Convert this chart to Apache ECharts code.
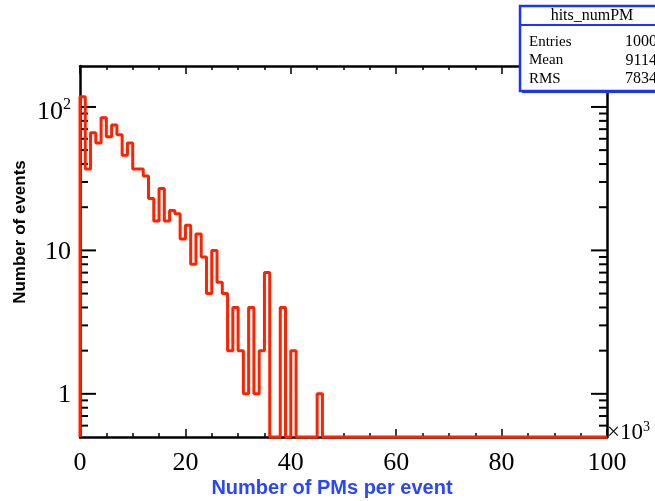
<!DOCTYPE html>
<html>
<head>
<meta charset="utf-8">
<script src="https://cdn.jsdelivr.net/npm/echarts@6/dist/echarts.min.js"></script>
<style>
html,body{margin:0;padding:0;background:#fff;}
#c{width:655px;height:501px;}
</style>
</head>
<body>
<div id="c"></div>
<script>
// ---- data ----
const binEdgesStart = 0;      // x10^3
const binWidth = 1;           // x10^3
const binValues = [
  118, 37, 66, 56, 84, 62, 75, 64, 46, 56,
   37, 37, 33, 23, 16, 27, 16, 19, 18, 12,
   15,  8, 13,  9,  5, 10,  6,  5,  2,  4,
    2,  1,  4,  1,  2,  7,  0,  0,  4,  0,
    2,  0,  0,  0,  0,  1,  0,  0,  0,  0,
    0,  0,  0,  0,  0,  0,  0,  0,  0,  0,
    0,  0,  0,  0,  0,  0,  0,  0,  0,  0,
    0,  0,  0,  0,  0,  0,  0,  0,  0,  0,
    0,  0,  0,  0,  0,  0,  0,  0,  0,  0,
    0,  0,  0,  0,  0,  0,  0,  0,  0,  0
];
const xTickLabels = [0, 20, 40, 60, 80, 100];
const yTickValues = [0.6, 0.7, 0.8, 0.9, 1, 2, 3, 4, 5, 6, 7, 8, 9, 10, 20, 30, 40, 50, 60, 70, 80, 90, 100];
const yMajorLabels = {1: '1', 10: '10', 100: '10²'};
const statsTitle = 'hits_numPM';
const statsNames = ['Entries', 'Mean', 'RMS'];
const statsValues = ['1000', '9114', '7834'];
const xTitle = 'Number of PMs per event';
const yTitle = 'Number of events';

const Y_MIN = 0.5, Y_MAX = 193;

// build step data (left edge of each bin), empty bins drawn at the axis minimum
const stepData = [[binEdgesStart, Y_MIN]];
binValues.forEach((v, i) => stepData.push([binEdgesStart + i * binWidth, v > 0 ? v : Y_MIN]));
stepData.push([binEdgesStart + binValues.length * binWidth, binValues[binValues.length - 1] > 0 ? binValues[binValues.length - 1] : Y_MIN]);

const serif = 'Liberation Serif';
const chart = echarts.init(document.getElementById('c'), null, {renderer: 'canvas'});

const axisLineStyle = {color: '#000', width: 2.5};

chart.setOption({
  animation: false,
  grid: {left: 80, right: 48, top: 66, bottom: 64, containLabel: false},
  xAxis: [{
    type: 'value', min: 0, max: 100, interval: 20, position: 'bottom',
    axisLine: {show: true, onZero: false, lineStyle: axisLineStyle},
    axisTick: {show: true, inside: true, length: 8, lineStyle: {color: '#000', width: 1.5}},
    minorTick: {show: true, splitNumber: 4, length: 4, lineStyle: {color: '#000', width: 1.5}},
    axisLabel: {show: true, fontFamily: serif, fontSize: 26, color: '#000', margin: 13,
      formatter: v => xTickLabels.indexOf(v) >= 0 ? String(v) : ''},
    splitLine: {show: false}
  }, {
    type: 'value', min: 0, max: 100, interval: 20, position: 'top',
    axisLine: {show: true, onZero: false, lineStyle: axisLineStyle},
    axisTick: {show: true, inside: true, length: 8, lineStyle: {color: '#000', width: 1.5}},
    minorTick: {show: true, splitNumber: 4, length: 4, lineStyle: {color: '#000', width: 1.5}},
    axisLabel: {show: false},
    splitLine: {show: false}
  }],
  yAxis: [{
    type: 'log', logBase: 10, min: Y_MIN, max: Y_MAX, position: 'left',
    axisLine: {show: true, onZero: false, lineStyle: axisLineStyle},
    axisTick: {show: false},
    axisLabel: {show: true, margin: 9, color: '#000',
      formatter: v => {
        const r = Math.round(v);
        if (r === 100) return '{b|10}{s|2}';
        if (yMajorLabels[r] !== undefined && Math.abs(v - r) < 1e-6) return '{c|' + yMajorLabels[r] + '}';
        return '';
      },
      rich: {
        b: {fontFamily: serif, fontSize: 26, color: '#000', padding: [10, 0, 0, 0]},
        c: {fontFamily: serif, fontSize: 26, color: '#000', padding: [3, 0, 0, 0]},
        s: {fontFamily: serif, fontSize: 16, color: '#000', verticalAlign: 'top', padding: [8, 0, 0, 0]}
      }
    },
    splitLine: {show: false},
    minorTick: {show: false}
  }, {
    type: 'log', logBase: 10, min: Y_MIN, max: Y_MAX, position: 'right',
    axisLine: {show: true, onZero: false, lineStyle: axisLineStyle},
    axisTick: {show: false}, axisLabel: {show: false}, splitLine: {show: false}
  }],
  series: [{
    type: 'line',
    xAxisIndex: 0, yAxisIndex: 0,
    step: 'end',
    data: stepData,
    showSymbol: false, symbol: 'none',
    lineStyle: {color: '#ff2200', width: 3},
    clip: false,
    z: 5
  }, {
    type: 'custom',
    xAxisIndex: 0, yAxisIndex: 0,
    data: yTickValues.map(v => [0, v]),
    renderItem: (params, api) => {
      const v = api.value(1);
      const lg = Math.log10(v);
      const major = Math.abs(lg - Math.round(lg)) < 1e-9;
      const len = major ? 16 : 8;
      const pL = api.coord([0, v]);
      const pR = api.coord([100, v]);
      return {
        type: 'group',
        children: [
          {type: 'line', shape: {x1: pL[0], y1: pL[1], x2: pL[0] + len, y2: pL[1]}, style: {stroke: '#000', lineWidth: 2}},
          {type: 'line', shape: {x1: pR[0], y1: pR[1], x2: pR[0] - len, y2: pR[1]}, style: {stroke: '#000', lineWidth: 2}}
        ]
      };
    },
    z: 3
  }],
  graphic: [
    {type: 'text', left: 607, top: 420, z: 10,
      style: {text: '{a|×10}{s|3}', rich: {
        a: {fontFamily: serif, fontSize: 23, fill: '#000'},
        s: {fontFamily: serif, fontSize: 14, fill: '#000', verticalAlign: 'top', padding: [0, 0, 11, 0]}
      }}},
    {type: 'text', x: 20, y: 232, rotation: Math.PI / 2, z: 10,
      style: {text: yTitle, fontFamily: 'Liberation Sans', fontWeight: 'bold', fontSize: 17, fill: '#000', align: 'center', verticalAlign: 'middle'}},
    {type: 'text', x: 332, y: 488, z: 10,
      style: {text: xTitle, fontFamily: 'Liberation Sans', fontWeight: 'bold', fontSize: 20, fill: '#2a45ff', align: 'center', verticalAlign: 'middle'}},
    {type: 'group', z: 20, children: [
      {type: 'rect', shape: {x: 522, y: 8, width: 145, height: 85}, style: {fill: '#1a33ff'}, z: 20},
      {type: 'rect', shape: {x: 520, y: 6, width: 145, height: 85}, style: {fill: '#fff', stroke: '#1a33ff', lineWidth: 2.5}, z: 21},
      {type: 'line', shape: {x1: 520, y1: 25, x2: 667, y2: 25}, style: {stroke: '#1a33ff', lineWidth: 2}, z: 22},
      {type: 'text', x: 592, y: 16, z: 22, style: {text: statsTitle, fontFamily: serif, fontSize: 16, fill: '#000', align: 'center', verticalAlign: 'middle'}},
      ...statsNames.map((n, i) => ({type: 'text', x: 529, y: 42 + i * 18.5, z: 22,
        style: {text: n, fontFamily: serif, fontSize: 15, fill: '#000', align: 'left', verticalAlign: 'middle'}})),
      ...statsValues.map((n, i) => ({type: 'text', x: 657, y: 42 + i * 18.5, z: 22,
        style: {text: n, fontFamily: serif, fontSize: 16, fill: '#000', align: 'right', verticalAlign: 'middle'}}))
    ]}
  ]
});
</script>
</body>
</html>
